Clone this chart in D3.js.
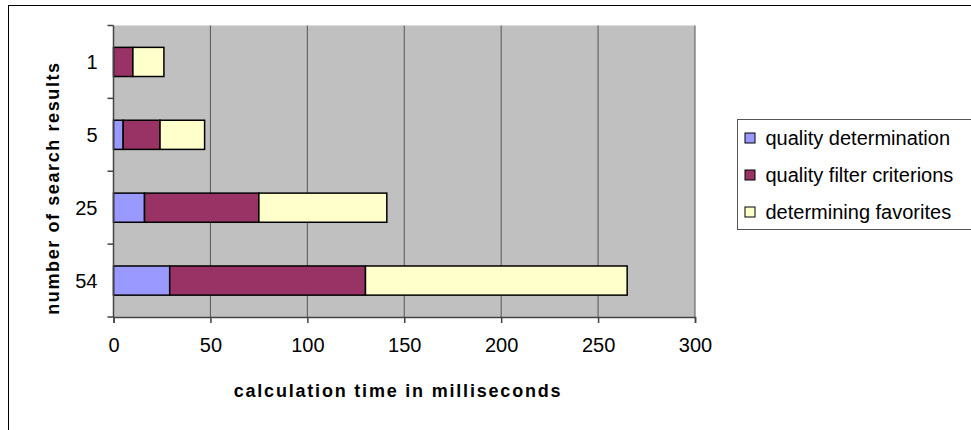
<!DOCTYPE html>
<html>
<head>
<meta charset="utf-8">
<script src="https://cdn.jsdelivr.net/npm/d3@7"></script>
<style>
  body { margin: 0; background: #fff; }
  text { font-family: "Liberation Sans", Arial, sans-serif; }
</style>
</head>
<body>
<script>
var categories = ['1', '5', '25', '54'];
var seriesNames = ['quality determination', 'quality filter criterions', 'determining favorites'];
var qualityDetermination = [0, 5, 16, 29];
var qualityFilter = [10, 19, 59, 101];
var favorites = [16, 23, 66, 135];
var xTicks = [0, 50, 100, 150, 200, 250, 300];
var colors = ['#9999ff', '#993366', '#ffffcc'];

var W = 971, H = 430;
var plot = {left: 113.5, top: 25.5, right: 695, bottom: 317};

var svg = d3.select('body').append('svg')
    .attr('width', W).attr('height', H);

// chart frame (right/bottom lie outside the picture)
svg.append('rect')
    .attr('x', 8.5).attr('y', 5.5)
    .attr('width', W + 20).attr('height', H + 20)
    .attr('fill', '#fff').attr('stroke', '#000').attr('stroke-width', 1);

var x = d3.scaleLinear().domain([0, 300]).range([plot.left, plot.right]);
var y = d3.scaleBand().domain(categories).range([plot.top, plot.bottom]);

svg.append('rect')
    .attr('x', plot.left).attr('y', plot.top)
    .attr('width', plot.right - plot.left).attr('height', plot.bottom - plot.top)
    .attr('fill', '#c0c0c0');

// gridlines
svg.append('g').selectAll('line')
    .data(xTicks.slice(1))
    .join('line')
        .attr('x1', d => x(d)).attr('x2', d => x(d))
        .attr('y1', plot.top).attr('y2', plot.bottom)
        .attr('stroke', '#555').attr('stroke-width', 1);

// stacked bars
var rows = categories.map(function(c, i) {
    return {cat: c, v: [qualityDetermination[i], qualityFilter[i], favorites[i]]};
});
var barH = y.bandwidth() * 0.4;
rows.forEach(function(r) {
    var x0 = 0;
    r.v.forEach(function(v, k) {
        if (v > 0) {
            svg.append('rect')
                .attr('x', x(x0)).attr('y', y(r.cat) + (y.bandwidth() - barH) / 2)
                .attr('width', x(x0 + v) - x(x0)).attr('height', barH)
                .attr('fill', colors[k]).attr('stroke', '#000').attr('stroke-width', 1.5);
        }
        x0 += v;
    });
});

// axes
var axisX = d3.axisBottom(x).tickValues(xTicks).tickSize(6).tickPadding(15);
var gx = svg.append('g')
    .attr('transform', 'translate(0,' + plot.bottom + ')')
    .call(axisX);
gx.select('.domain').attr('stroke', '#444').attr('stroke-width', 1.5);
gx.selectAll('line').attr('stroke', '#444').attr('stroke-width', 1.5);
gx.selectAll('text').attr('font-size', 20).attr('fill', '#000')
    .attr('font-family', '"Liberation Sans", Arial, sans-serif');

var gy = svg.append('g')
    .attr('transform', 'translate(' + plot.left + ',0)');
gy.append('line')
    .attr('x1', 0).attr('x2', 0).attr('y1', plot.top).attr('y2', plot.bottom)
    .attr('stroke', '#444').attr('stroke-width', 1.5);
gy.selectAll('.tk')
    .data(d3.range(categories.length + 1))
    .join('line')
        .attr('x1', -6).attr('x2', 0)
        .attr('y1', i => plot.top + i * y.step()).attr('y2', i => plot.top + i * y.step())
        .attr('stroke', '#444').attr('stroke-width', 1.5);
gy.selectAll('.lbl')
    .data(categories)
    .join('text')
        .attr('x', -16).attr('y', d => y(d) + y.bandwidth() / 2)
        .attr('dy', '0.35em').attr('text-anchor', 'end')
        .attr('font-size', 20).text(d => d);

// axis titles
svg.append('text')
    .attr('x', 398).attr('y', 397)
    .attr('text-anchor', 'middle').attr('font-weight', 'bold')
    .attr('font-size', 18).attr('letter-spacing', 1.8)
    .text('calculation time in milliseconds');

svg.append('text')
    .attr('transform', 'translate(59,188) rotate(-90)')
    .attr('text-anchor', 'middle').attr('font-weight', 'bold')
    .attr('font-size', 18).attr('letter-spacing', 1.6)
    .text('number of search results');

// legend
var lg = svg.append('g').attr('transform', 'translate(737.5,119.5)');
lg.append('rect')
    .attr('width', 250).attr('height', 110)
    .attr('fill', '#fff').attr('stroke', '#555').attr('stroke-width', 1);
seriesNames.forEach(function(n, i) {
    var cy = 18.5 + i * 37;
    lg.append('rect')
        .attr('x', 7.5).attr('y', cy - 5)
        .attr('width', 10).attr('height', 10)
        .attr('fill', colors[i]).attr('stroke', '#000').attr('stroke-width', 1);
    lg.append('text')
        .attr('x', 28).attr('y', cy).attr('dy', '0.35em')
        .attr('font-size', 20).text(n);
});
</script>
</body>
</html>
